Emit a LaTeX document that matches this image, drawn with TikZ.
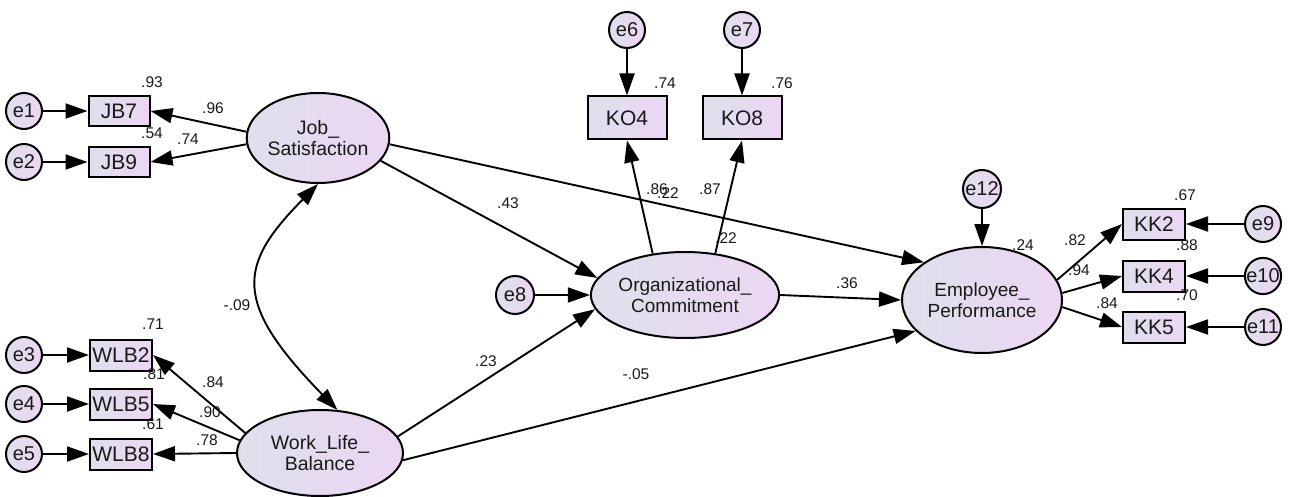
\documentclass[tikz,border=0pt]{standalone}
\usepackage{fontspec}
\setmainfont{Liberation Sans}
\usetikzlibrary{shapes.geometric,arrows.meta}
\definecolor{shadeL}{RGB}{222,224,236}
\definecolor{shadeR}{RGB}{236,214,242}
\tikzstyle{latent}=[ellipse, draw, line width=2pt, left color=shadeL, right color=shadeR, inner sep=0pt, align=center, text=black!90]
\tikzstyle{item}=[rectangle, draw, line width=2pt, left color=shadeL, right color=shadeR, inner sep=0pt, text=black!90, font=\fontsize{21}{23}\selectfont]
\tikzstyle{err}=[circle, draw, line width=2pt, left color=shadeL, right color=shadeR, inner sep=0pt, minimum size=36pt, text=black!90, font=\fontsize{20}{22}\selectfont]
\tikzstyle{coef}=[inner sep=0pt, text=black!90, font=\fontsize{15.5}{17}\selectfont]

\begin{document}
\begin{tikzpicture}[x=1pt, y=-1pt, line width=1.9pt, >={Triangle[length=22pt,width=15pt]}]
\useasboundingbox (0,0) rectangle (1292,497);
% Latent variables
    \node[latent, minimum width=137pt, minimum height=90pt, font=\fontsize{19.5}{21}\selectfont] (js) at (318,138) {Job\_\\Satisfaction};
    \node[latent, minimum width=166pt, minimum height=86pt, font=\fontsize{19.5}{21}\selectfont] (wlb) at (320,453) {Work\_Life\_\\Balance};
    \node[latent, minimum width=160pt, minimum height=86pt, font=\fontsize{19}{20.5}\selectfont] (oc) at (685,295) {Organizational\_\\Commitment};
    \node[latent, minimum width=160pt, minimum height=106pt, font=\fontsize{19}{20.5}\selectfont] (ep) at (982,300) {Employee\_\\Performance};
% Indicators
    \node[item, minimum width=61pt, minimum height=30pt] (jb7) at (119,111) {JB7};
    \node[item, minimum width=61pt, minimum height=30pt] (jb9) at (119,162) {JB9};
    \node[item, minimum width=62pt, minimum height=31pt] (wlb2) at (121,355) {WLB2};
    \node[item, minimum width=62pt, minimum height=31pt] (wlb5) at (121,404) {WLB5};
    \node[item, minimum width=62pt, minimum height=31pt] (wlb8) at (121,454) {WLB8};
    \node[item, minimum width=79pt, minimum height=43pt] (ko4) at (627,118) {KO4};
    \node[item, minimum width=79pt, minimum height=43pt] (ko8) at (742,118) {KO8};
    \node[item, minimum width=62pt, minimum height=31pt] (kk2) at (1154,224) {KK2};
    \node[item, minimum width=62pt, minimum height=31pt] (kk4) at (1154,276) {KK4};
    \node[item, minimum width=62pt, minimum height=31pt] (kk5) at (1154,327) {KK5};
% Error terms
    \node[err] (e1) at (24,111) {e1};
    \node[err] (e2) at (24,162) {e2};
    \node[err] (e3) at (24,355) {e3};
    \node[err] (e4) at (24,404) {e4};
    \node[err] (e5) at (24,454) {e5};
    \node[err] (e6) at (627,30) {e6};
    \node[err] (e7) at (742,30) {e7};
    \node[err, minimum size=38pt] (e8) at (515,295) {e8};
    \node[err] (e9) at (1263,224) {e9};
    \node[err] (e10) at (1263,276) {e10};
    \node[err] (e11) at (1263,327) {e11};
    \node[err, minimum size=38pt] (e12) at (982,189) {e12};
% Errors to indicators
    \draw[->] (e1) -- (jb7);
    \draw[->] (e2) -- (jb9);
    \draw[->] (e3) -- (wlb2);
    \draw[->] (e4) -- (wlb5);
    \draw[->] (e5) -- (wlb8);
    \draw[->] (e6) -- (ko4);
    \draw[->] (e7) -- (ko8);
    \draw[->] (e8) -- (oc.west);
    \draw[->] (e9) -- (kk2);
    \draw[->] (e10) -- (kk4);
    \draw[->] (e11) -- (kk5);
    \draw[->] (e12) -- (ep.north);
% Loadings
    \draw[->] (js.175) -- (jb7.east);
    \draw[->] (js.185) -- (jb9.east);
    \draw[->] (wlb.165) -- (wlb2.east);
    \draw[->] (wlb.171) -- (wlb5.east);
    \draw[->] (wlb.west) -- (wlb8.east);
    \draw[->] (oc.128) -- (ko4.south);
    \draw[->] (oc.54) -- (ko8.south);
    \draw[->] (ep.15) -- (kk2.west);
    \draw[->] (ep.5) -- (kk4.west);
    \draw[->] (ep.-5) -- (kk5.west);
% Structural paths
    \draw[->] (js.-20) -- (oc.169);
    \draw[->] (js.-5) -- (ep.147);
    \draw[->] (wlb.12) -- (oc.189);
    \draw[->] (wlb.-5) -- (ep.205);
    \draw[->] (oc.east) -- (ep.west);
    \draw[<->] (js.south) .. controls (238,265) and (232,302) .. (wlb.68);
% Estimates
    \node[coef] (r93) at (152,82) {.93};
    \node[coef] (l96) at (213,108) {.96};
    \node[coef] (r54) at (152,133) {.54};
    \node[coef] (l74) at (188,139) {.74};
    \node[coef] (r71) at (153,324) {.71};
    \node[coef] (l84) at (213,382) {.84};
    \node[coef] (r81) at (154,374) {.81};
    \node[coef] (l90) at (210,412) {.90};
    \node[coef] (r61) at (153,424) {.61};
    \node[coef] (l78) at (207,440) {.78};
    \node[coef] (cov) at (237,305) {-.09};
    \node[coef] (r74) at (665,83) {.74};
    \node[coef] (r76) at (782,83) {.76};
    \node[coef] (l86) at (657,189) {.86};
    \node[coef] (r22a) at (668,193) {.22};
    \node[coef] (l87) at (710,189) {.87};
    \node[coef] (r22b) at (726,238) {.22};
    \node[coef] (b43) at (508,203) {.43};
    \node[coef] (b23) at (486,361) {.23};
    \node[coef] (b05) at (636,374) {-.05};
    \node[coef] (b36) at (847,283) {.36};
    \node[coef] (r24) at (1023,245) {.24};
    \node[coef] (l82) at (1075,240) {.82};
    \node[coef] (l94) at (1079,270) {.94};
    \node[coef] (l84b) at (1107,303) {.84};
    \node[coef] (r67) at (1185,195) {.67};
    \node[coef] (r88) at (1187,245) {.88};
    \node[coef] (r70) at (1187,295) {.70};
\end{tikzpicture}
\end{document}
